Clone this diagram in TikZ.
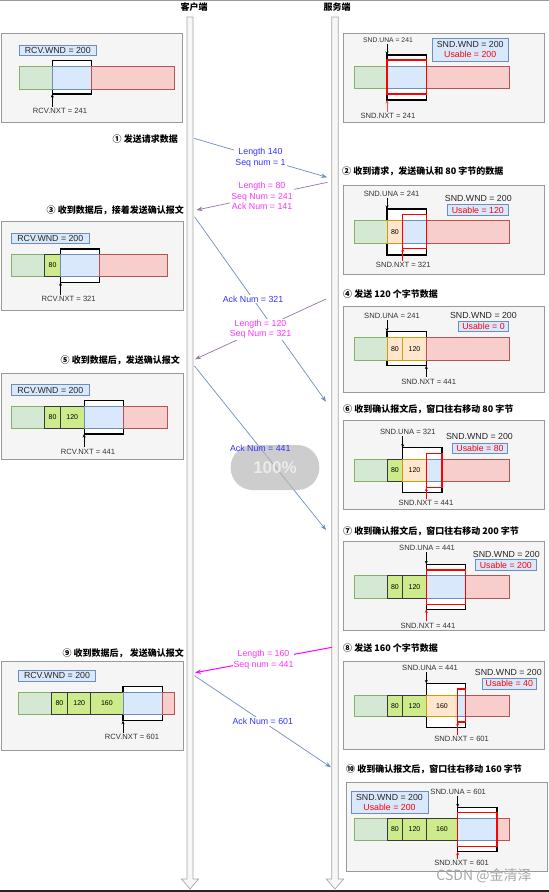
\documentclass[tikz,border=0pt]{standalone}
\usepackage{fontspec}
\setmainfont{Liberation Sans}
\newfontfamily\cjk{Noto Sans CJK SC}
\usetikzlibrary{arrows.meta}

\definecolor{pgreen}{HTML}{D5E8D4}
\definecolor{dgreen}{HTML}{82B366}
\definecolor{pblue}{HTML}{DAE8FC}
\definecolor{dblue}{HTML}{6C8EBF}
\definecolor{pred}{HTML}{F8CECC}
\definecolor{dred}{HTML}{B85450}
\definecolor{porange}{HTML}{FFE6CC}
\definecolor{dorange}{HTML}{D79B00}
\definecolor{plime}{HTML}{CDEB8B}
\definecolor{dlime}{HTML}{36393D}
\definecolor{dpurple}{HTML}{9673A6}
\definecolor{tblue}{HTML}{3333FF}
\definecolor{tmag}{HTML}{FF33FF}
\definecolor{lmag}{HTML}{FF00FF}

\tikzset{
    panel/.style={draw=black!40, fill=black!4, line width=0.7pt},
    sgreen/.style={draw=dgreen, fill=pgreen, line width=0.7pt},
    sblue/.style={draw=dblue, fill=pblue, line width=0.7pt},
    sred/.style={draw=dred, fill=pred, line width=0.7pt},
    sorange/.style={draw=dorange, fill=porange, line width=0.7pt},
    slime/.style={draw=dlime, fill=plime, line width=0.7pt},
    window/.style={draw=black, fill=white, line width=1.2pt},
    usable/.style={draw=red, line width=1.2pt},
    wndbox/.style={draw=dblue, fill=pblue, line width=0.6pt, inner sep=0.5pt,
        minimum height=10.5pt, align=center, text=black!85,
        font=\fontsize{8.8}{10.3}\selectfont},
    wndtxt/.style={inner sep=0.5pt, text=black!85, font=\fontsize{8.8}{10.3}\selectfont},
    ptrlabel/.style={inner sep=1.5pt, text=black!80, font=\fontsize{7.6}{8}\selectfont},
    ptr/.style={-{Stealth[length=3.5pt,width=3pt]}, line width=0.5pt},
    blk/.style={inner sep=0pt, font=\fontsize{7}{8}\selectfont},
    steplabel/.style={inner sep=0pt, font=\cjk\bfseries\fontsize{9}{10}\selectfont},
    lifeline/.style={draw=black!35, fill=black!3, line width=0.7pt},
    msg/.style={-{Stealth[length=6pt,width=4.5pt]}, line width=0.7pt},
    msglabel/.style={fill=white, inner sep=1pt, align=center,
        font=\fontsize{8.8}{10.6}\selectfont},
    pill/.style={fill=black!28, fill opacity=0.7, text opacity=1, text=black!8,
        rounded corners=22pt, minimum width=88.6pt, minimum height=45pt,
        font=\bfseries\fontsize{17}{17}\selectfont},
}

\begin{document}
\begin{tikzpicture}[x=1pt, y=-1pt]
    \useasboundingbox (0,0) rectangle (549,892);
    \draw[black!40, line width=0.8pt] (0,0.8) -- (549,0.8);
    \draw[black!85, line width=1.6pt] (0,891.2) -- (549,891.2);

    % lifelines
    \draw[lifeline] (187,17) -- (193,17) -- (193,879) -- (198.5,879)
        -- (190,889) -- (181.5,879) -- (187,879) -- cycle;
    \draw[lifeline] (331.8,17) -- (338.2,17) -- (338.2,879) -- (343.7,879)
        -- (335,889) -- (326.3,879) -- (331.8,879) -- cycle;
    \node[steplabel] (client) at (194,7) {客户端};
    \node[steplabel] (server) at (337,7) {服务端};

    %% client side
    % panel 1
    \draw[panel] (1,33) rectangle (182,122);
    \node[wndbox, minimum width=77.7pt] (l1wnd) at (57.8,50.3) {RCV.WND = 200};
    \draw[window] (52.3,60.7) rectangle (91.6,94);
    \foreach \a/\b/\s in {19/52.3/sgreen, 52.3/91.6/sblue, 91.6/174.6/sred}
        \draw[\s] (\a,66.7) rectangle (\b,89);
    \coordinate (l1bot) at (52.3,94);
    \node[ptrlabel] (l1nxt) at (60,111) {RCV.NXT = 241};
    \draw[ptr] (l1nxt.north -| l1bot) -- (l1bot);

    % panel 2
    \draw[panel] (1,221) rectangle (183,310);
    \node[wndbox, minimum width=77.5pt] (l2wnd) at (50.3,238.2) {RCV.WND = 200};
    \draw[window] (60.5,249) rectangle (99.8,282.3);
    \foreach \a/\b/\s in {11.5/44.8/sgreen, 44.8/60.5/slime, 60.5/99.8/sblue, 99.8/167.1/sred}
        \draw[\s] (\a,254) rectangle (\b,276.7);
    \node[blk] (l2b80) at (52.6,265.3) {80};
    \coordinate (l2bot) at (60.5,282.3);
    \node[ptrlabel] (l2nxt) at (68.7,299) {RCV.NXT = 321};
    \draw[ptr] (l2nxt.north -| l2bot) -- (l2bot);

    % panel 3
    \draw[panel] (1,373.3) rectangle (183,459.3);
    \node[wndbox, minimum width=77.5pt] (l3wnd) at (50.3,390) {RCV.WND = 200};
    \draw[window] (84.1,400.7) rectangle (123.4,434);
    \foreach \a/\b/\s in {11.5/44.8/sgreen, 44.8/60.5/slime, 60.5/84.1/slime, 84.1/123.4/sblue, 123.4/167.1/sred}
        \draw[\s] (\a,406) rectangle (\b,428.3);
    \node[blk] (l3b80) at (52.6,417.2) {80};
    \node[blk] (l3b120) at (72.3,417.2) {120};
    \coordinate (l3bot) at (84.1,434);
    \node[ptrlabel] (l3nxt) at (88,451.7) {RCV.NXT = 441};
    \draw[ptr] (l3nxt.north -| l3bot) -- (l3bot);

    % panel 4
    \draw[panel] (1,661.7) rectangle (183,750);
    \node[wndbox, minimum width=77.5pt] (l4wnd) at (57,675.8) {RCV.WND = 200};
    \draw[window] (123,686.7) rectangle (162.3,720.7);
    \foreach \a/\b/\s in {18.2/51.5/sgreen, 51.5/67.5/slime, 67.5/90.8/slime, 90.8/123/slime, 123/162.3/sblue, 162.3/174/sred}
        \draw[\s] (\a,692.3) rectangle (\b,714.3);
    \node[blk] (l4b80) at (59.5,703.3) {80};
    \node[blk] (l4b120) at (79.2,703.3) {120};
    \node[blk] (l4b160) at (106.9,703.3) {160};
    \coordinate (l4bot) at (123,720.7);
    \node[ptrlabel] (l4nxt) at (132,737.3) {RCV.NXT = 601};
    \draw[ptr] (l4nxt.north -| l4bot) -- (l4bot);

    %% server side
    % panel 1
    \draw[panel] (343,33) rectangle (544,122);
    \draw[window] (387,55) rectangle (426.3,100);
    \foreach \a/\b/\s in {354/387/sgreen, 387/426.3/sblue, 426.3/509.3/sred}
        \draw[\s] (\a,66.7) rectangle (\b,88.3);
    \draw[usable] (387,60) rectangle (426.3,94);
    \coordinate (r1top) at (387,55);
    \coordinate (r1bot) at (387,100);
    \node[ptrlabel, font=\fontsize{6.8}{8}\selectfont] (r1una) at (388,40) {SND.UNA = 241};
    \node[ptrlabel] (r1nxt) at (388,116) {SND.NXT = 241};
    \draw[ptr] (r1una.south -| r1top) -- (r1top);
    \draw[ptr, red!70] (r1nxt.north -| r1bot) -- (r1bot);
    \node[wndbox, minimum width=76.3pt, minimum height=22.7pt] (r1wnd) at (470.2,49.7)
        {SND.WND = 200\\\textcolor{red}{Usable = 200}};

    % panel 2
    \draw[panel] (343,185) rectangle (544,274);
    \draw[window] (387,209) rectangle (426.3,255);
    \foreach \a/\b/\s in {354/387/sgreen, 387/402.7/sorange, 402.7/426.3/sblue, 426.3/509.3/sred}
        \draw[\s] (\a,220.7) rectangle (\b,243.3);
    \node[blk] (r2b80) at (394.9,232) {80};
    \draw[usable] (402.7,214.3) rectangle (426.3,248.3);
    \coordinate (r2top) at (387,209);
    \coordinate (r2bot) at (402.7,248.3);
    \node[ptrlabel] (r2una) at (391.7,194) {SND.UNA = 241};
    \node[ptrlabel] (r2nxt) at (403.3,265) {SND.NXT = 321};
    \draw[ptr] (r2una.south -| r2top) -- (r2top);
    \draw[ptr, red] (r2nxt.north -| r2bot) -- (r2bot);
    \node[wndtxt] (r2wnd) at (478.3,198.3) {SND.WND = 200};
    \node[wndbox, minimum width=61pt, text=red] (r2use) at (477.8,210) {Usable = 120};

    % panel 3
    \draw[panel] (343,306.7) rectangle (544,392.7);
    \draw[window] (387,331.7) rectangle (426.3,365.7);
    \foreach \a/\b/\s in {354/387/sgreen, 387/402.7/sorange, 402.7/426.3/sorange, 426.3/509.3/sred}
        \draw[\s] (\a,337.7) rectangle (\b,360);
    \node[blk] (r3b80) at (394.9,348.9) {80};
    \node[blk] (r3b120) at (414.5,348.9) {120};
    \coordinate (r3top) at (387,331.7);
    \coordinate (r3bot) at (426.3,365.7);
    \node[ptrlabel] (r3una) at (392,315.7) {SND.UNA = 241};
    \node[ptrlabel] (r3nxt) at (428.7,381.7) {SND.NXT = 441};
    \draw[ptr] (r3una.south -| r3top) -- (r3top);
    \draw[ptr] (r3nxt.north -| r3bot) -- (r3bot);
    \node[wndtxt] (r3wnd) at (483.4,315.7) {SND.WND = 200};
    \node[wndbox, minimum width=49.7pt, text=red] (r3use) at (483.5,326.3) {Usable = 0};

    % panel 4
    \draw[panel] (343,420) rectangle (544,509.3);
    \draw[window] (402.7,447.7) rectangle (442,492.3);
    \foreach \a/\b/\s in {354/387/sgreen, 387/402.7/slime, 402.7/426.3/sorange, 426.3/442/sblue, 442/509.3/sred}
        \draw[\s] (\a,459.3) rectangle (\b,481.7);
    \node[blk] (r4b80) at (394.9,470.5) {80};
    \node[blk] (r4b120) at (414.5,470.5) {120};
    \draw[usable] (426.3,453.3) rectangle (442,487.7);
    \coordinate (r4top) at (402.7,447.7);
    \coordinate (r4bot) at (426.3,487.7);
    \node[ptrlabel] (r4una) at (407.8,431.7) {SND.UNA = 321};
    \node[ptrlabel] (r4nxt) at (426,503) {SND.NXT = 441};
    \draw[ptr] (r4una.south -| r4top) -- (r4top);
    \draw[ptr, red] (r4nxt.north -| r4bot) -- (r4bot);
    \node[wndtxt] (r4wnd) at (479.5,436.7) {SND.WND = 200};
    \node[wndbox, minimum width=54.7pt, text=red] (r4use) at (480,448.3) {Usable = 80};

    % panel 5
    \draw[panel] (343,541.7) rectangle (544,630);
    \draw[window] (426.3,564.3) rectangle (465.6,609.3);
    \foreach \a/\b/\s in {354/387/sgreen, 387/402.7/slime, 402.7/426.3/slime, 426.3/465.6/sblue, 465.6/509.3/sred}
        \draw[\s] (\a,575.7) rectangle (\b,598.3);
    \node[blk] (r5b80) at (394.9,587) {80};
    \node[blk] (r5b120) at (414.5,587) {120};
    \draw[usable] (426.3,570) rectangle (465.6,604.3);
    \coordinate (r5top) at (426.3,564.3);
    \coordinate (r5bot) at (426.3,609.3);
    \node[ptrlabel] (r5una) at (427,547.7) {SND.UNA = 441};
    \node[ptrlabel] (r5nxt) at (428,625.7) {SND.NXT = 441};
    \draw[ptr] (r5una.south -| r5top) -- (r5top);
    \draw[ptr, red] (r5nxt.north -| r5bot) -- (r5bot);
    \node[wndtxt] (r5wnd) at (506.3,554) {SND.WND = 200};
    \node[wndbox, minimum width=60.7pt, text=red] (r5use) at (505.8,565) {Usable = 200};

    % panel 6
    \draw[panel] (343,661) rectangle (544,749.3);
    \draw[window] (426.3,683.3) rectangle (465.6,727.7);
    \foreach \a/\b/\s in {354/387/sgreen, 387/402.7/slime, 402.7/426.3/slime, 426.3/457.7/sorange, 457.7/465.6/sblue, 465.6/509.3/sred}
        \draw[\s] (\a,695) rectangle (\b,716.7);
    \node[blk] (r6b80) at (394.9,705.9) {80};
    \node[blk] (r6b120) at (414.5,705.9) {120};
    \node[blk] (r6b160) at (442,705.9) {160};
    \draw[usable] (457.7,689) rectangle (465.6,722);
    \coordinate (r6top) at (426.3,683.3);
    \coordinate (r6bot) at (457.7,722);
    \node[ptrlabel] (r6una) at (430,667.7) {SND.UNA = 441};
    \node[ptrlabel] (r6nxt) at (461.6,739) {SND.NXT = 601};
    \draw[ptr] (r6una.south -| r6top) -- (r6top);
    \draw[ptr, red] (r6nxt.north -| r6bot) -- (r6bot);
    \node[wndtxt] (r6wnd) at (508.3,672.3) {SND.WND = 200};
    \node[wndbox, minimum width=53.5pt, text=red] (r6use) at (509.3,683.7) {Usable = 40};

    % panel 7
    \draw[panel] (346,782.3) rectangle (547,871);
    \draw[window] (457.7,807.3) rectangle (497,851.7);
    \foreach \a/\b/\s in {354/387/sgreen, 387/402.7/slime, 402.7/426.3/slime, 426.3/457.7/slime, 457.7/497/sblue, 497/509.3/sred}
        \draw[\s] (\a,818.3) rectangle (\b,840.7);
    \node[blk] (r7b80) at (394.9,829.5) {80};
    \node[blk] (r7b120) at (414.5,829.5) {120};
    \node[blk] (r7b160) at (442,829.5) {160};
    \draw[usable] (457.7,812.7) rectangle (497,846.7);
    \coordinate (r7top) at (457.7,807.3);
    \coordinate (r7bot) at (457.7,851.7);
    \node[ptrlabel] (r7una) at (458.2,791.7) {SND.UNA = 601};
    \node[ptrlabel] (r7nxt) at (461.6,863.3) {SND.NXT = 601};
    \draw[ptr] (r7una.south -| r7top) -- (r7top);
    \draw[ptr, red] (r7nxt.north -| r7bot) -- (r7bot);
    \node[wndbox, minimum width=77pt, minimum height=22.3pt] (r7wnd) at (389.5,802.2)
        {SND.WND = 200\\\textcolor{red}{Usable = 200}};

    %% step labels
    \node[steplabel, anchor=east] (st1) at (178,139) {① 发送请求数据};
    \node[steplabel, anchor=west] (st2) at (342,171.7) {② 收到请求，发送确认和 80 字节的数据};
    \node[steplabel, anchor=east] (st3) at (184,210) {③ 收到数据后，接着发送确认报文};
    \node[steplabel, anchor=west] (st4) at (343,294) {④ 发送 120 个字节数据};
    \node[steplabel, anchor=east] (st5) at (180,360) {⑤ 收到数据后，发送确认报文};
    \node[steplabel, anchor=west] (st6) at (343,409.3) {⑥ 收到确认报文后，窗口往右移动 80 字节};
    \node[steplabel, anchor=west] (st7) at (343,531.7) {⑦ 收到确认报文后，窗口往右移动 200 字节};
    \node[steplabel, anchor=west] (st8) at (343,648.3) {⑧ 发送 160 个字节数据};
    \node[steplabel, anchor=east] (st9) at (184,653.3) {⑨ 收到数据后， 发送确认报文};
    \node[steplabel, anchor=west] (st10) at (346,769.3) {⑩ 收到确认报文后，窗口往右移动 160 字节};

    %% messages
    \coordinate (c1) at (194,138.3);   \coordinate (s1) at (327,177.3);
    \coordinate (s2) at (327.5,182.3); \coordinate (c2) at (196.5,210);
    \coordinate (c3) at (194.5,216.7); \coordinate (s3) at (326,401.7);
    \coordinate (s4) at (326,299);     \coordinate (c4) at (195,359.3);
    \coordinate (c5) at (194.5,366);   \coordinate (s5) at (326,530);
    \coordinate (s6) at (332,647.3);   \coordinate (c6) at (195,672.7);
    \coordinate (c7) at (194.5,675.7); \coordinate (s7) at (331,767.3);

    \draw[msg, dblue] (c1) -- node[msglabel, text=tblue] (m1) {Length 140\\Seq num = 1} (s1);
    \draw[msg, dpurple] (s2) -- node[msglabel, text=tmag] (m2)
        {Length = 80\\Seq Num = 241\\Ack Num = 141} (c2);
    \draw[msg, dblue] (c3) -- node[msglabel, text=tblue, pos=0.445] (m3) {Ack Num = 321} (s3);
    \draw[msg, dpurple] (s4) -- node[msglabel, text=tmag] (m4) {Length = 120\\Seq Num = 321} (c4);
    \draw[msg, dblue] (c5) -- (s5);
    \draw[msg, lmag, line width=1pt] (s6) -- node[msglabel, text=tmag] (m6)
        {Length = 160\\Seq num = 441} (c6);
    \draw[msg, dblue] (c7) -- node[msglabel, text=tblue] (m7) {Ack Num = 601} (s7);

    % loading overlay
    \node[pill] (loading) at (275,467.5) {100\%};
    \path (c5) -- node[msglabel, fill=none, text=tblue] (m5) {Ack Num = 441} (s5);

    \node[font=\cjk\fontsize{14}{14}\selectfont, text=black!35, inner sep=0pt] (mark) at (484,876) {CSDN @金清泽};
\end{tikzpicture}
\end{document}
